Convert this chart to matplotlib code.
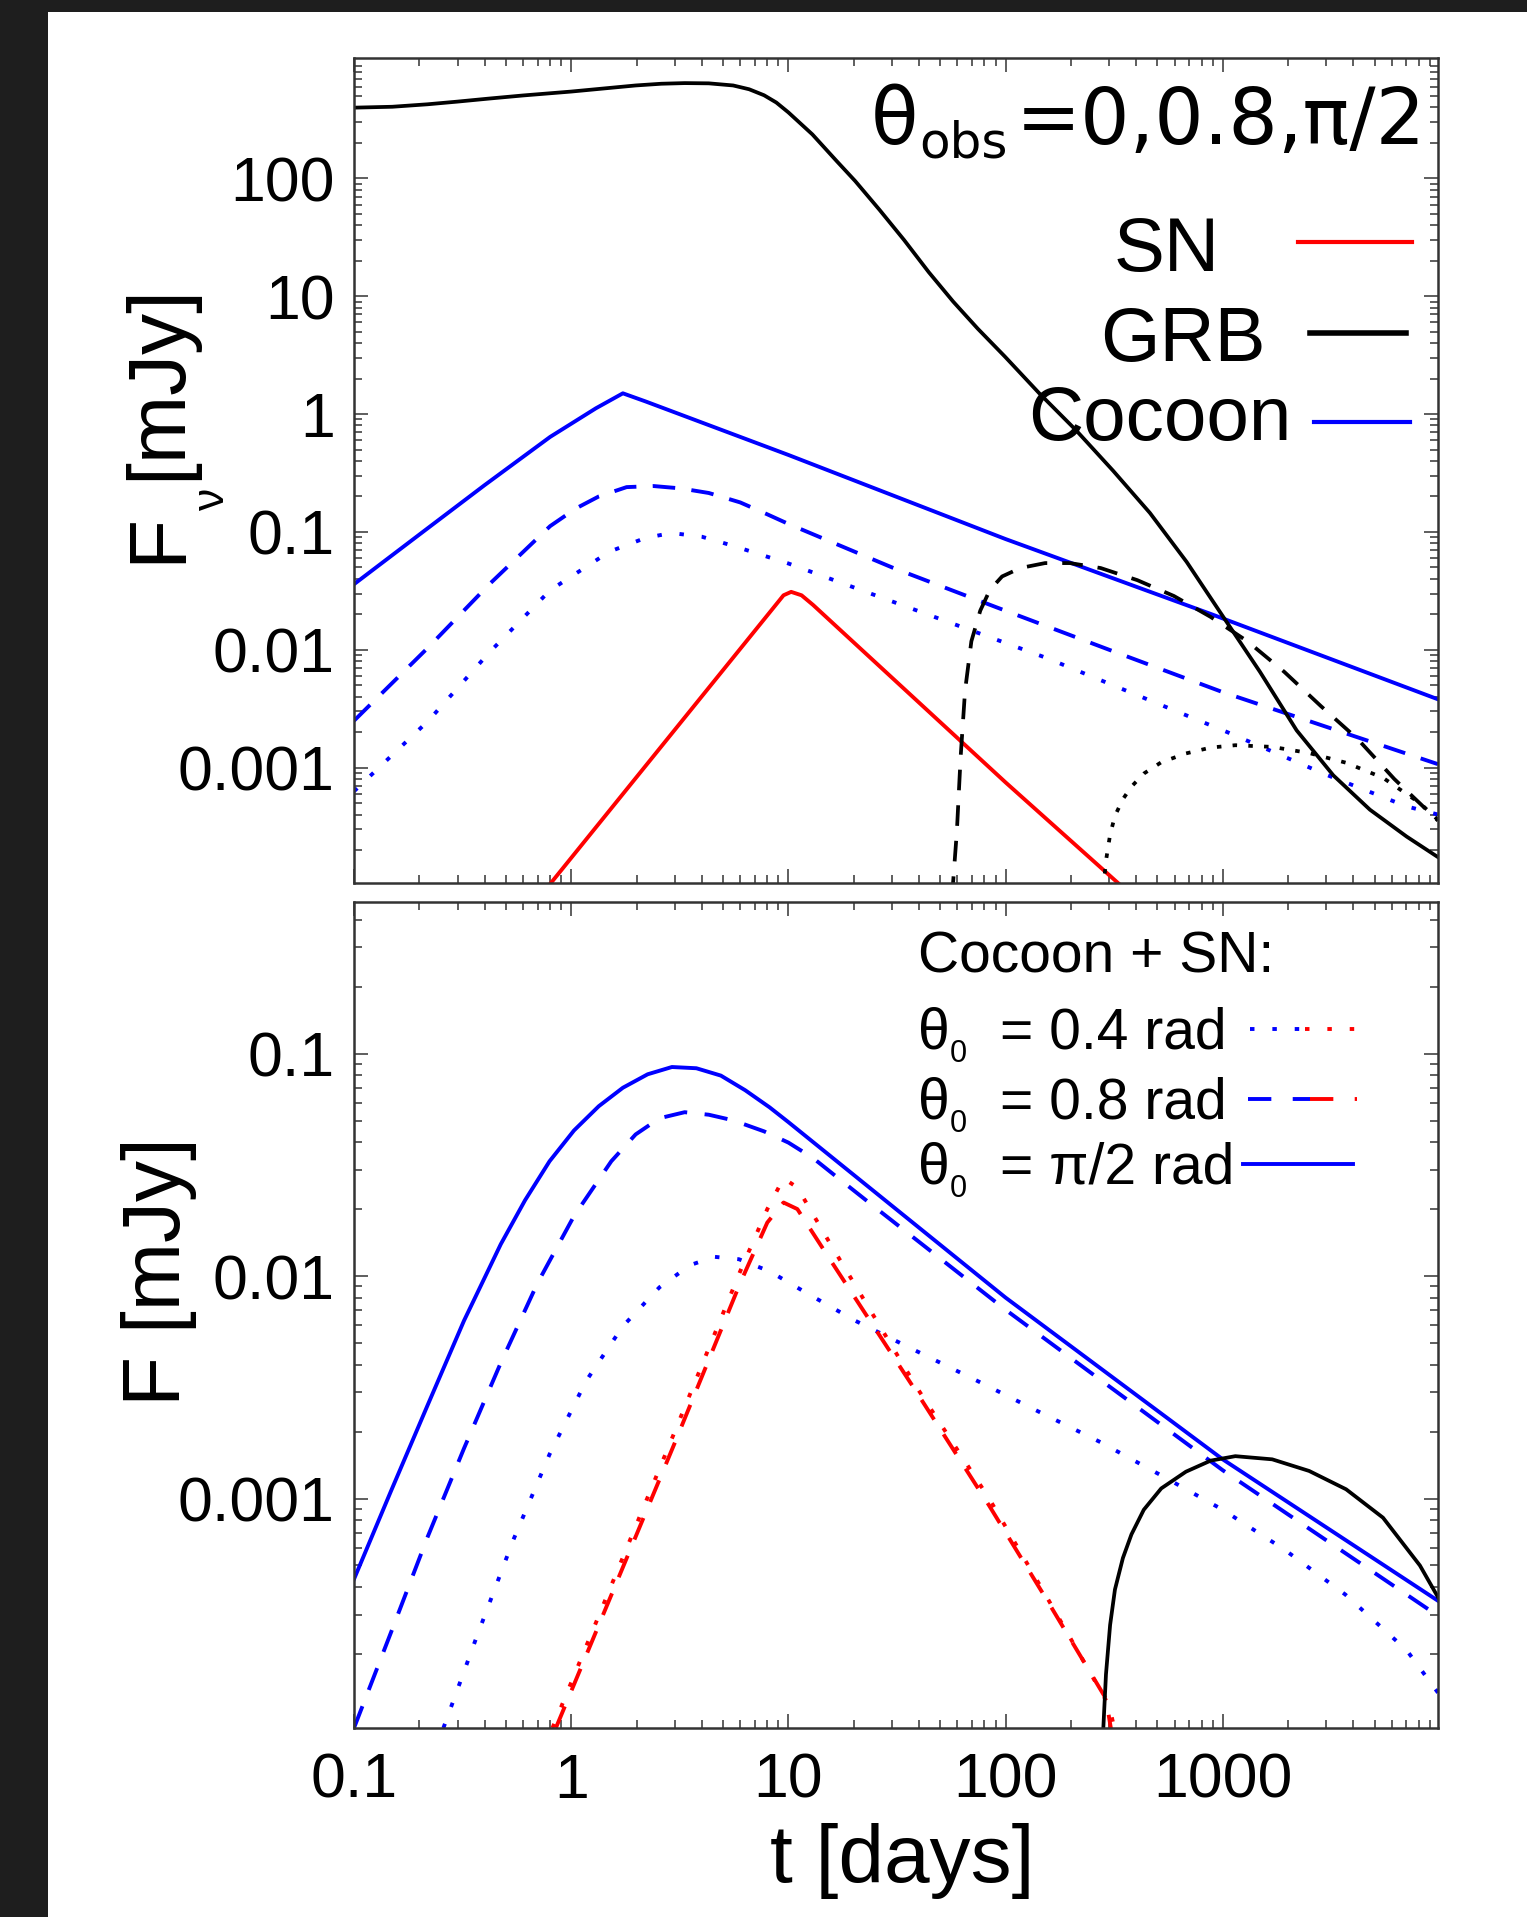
import matplotlib.pyplot as plt
from matplotlib.lines import Line2D
from matplotlib.patches import Rectangle
from matplotlib.ticker import FixedLocator, LogLocator, NullFormatter

# light curves, t in days, flux in mJy

# top panel: theta_obs = 0, 0.8, pi/2
t_grb_0 = [0.1, 0.15, 0.218, 0.3, 0.417, 0.6, 1.0, 1.5, 1.98, 2.6, 3.33, 4.3, 5.57, 6.6,
           7.73, 8.8, 10.0, 12.9, 16.7, 20.3, 26.3, 34.1, 44.3, 57.4, 74.5, 99.4, 143,
           211, 313, 462, 682, 1006, 1484, 2190, 3230, 4760, 7030, 9800]
f_grb_0 = [398, 405, 425, 448, 475, 505, 545, 585, 614, 635, 643, 640, 614, 570,
           507, 440, 363, 236, 140, 95, 54, 30, 16.0, 9.0, 5.3, 3.07, 1.5,
           0.73, 0.33, 0.145, 0.0557, 0.019, 0.0065, 0.00207, 8.6e-4, 4.4e-4, 2.6e-4, 1.74e-4]

t_grb_08 = [56.7, 59.7, 62.1, 65.1, 69.6, 76.5, 84.7, 96.4, 117, 152, 198, 274, 404,
            596, 880, 1300, 1920, 2830, 4180, 6170, 9800]
f_grb_08 = [8e-5, 2.9e-4, 1.22e-3, 4.5e-3, 0.0118, 0.0215, 0.0322, 0.0419, 0.0494,
            0.0544, 0.0544, 0.0494, 0.039, 0.0286, 0.019, 0.0118, 0.0065, 0.00333,
            0.00175, 8.0e-4, 3.55e-4]

t_grb_90 = [282, 290, 303, 319, 347, 380, 433, 521, 677, 880, 1143, 1690, 2500, 3700,
            5470, 8090, 9800]
f_grb_90 = [9.3e-5, 1.62e-4, 2.7e-4, 3.9e-4, 5.4e-4, 6.9e-4, 8.9e-4, 1.11e-3, 1.32e-3,
            1.48e-3, 1.55e-3, 1.5e-3, 1.33e-3, 1.1e-3, 8.2e-4, 5.0e-4, 3.6e-4]

t_coc_0 = [0.1, 0.2, 0.4, 0.8, 1.3, 1.73, 2.2, 10, 100, 890, 9800]
f_coc_0 = [0.036, 0.095, 0.25, 0.64, 1.12, 1.5, 1.28, 0.45, 0.087, 0.020, 0.0038]

t_coc_08 = [0.1, 0.22, 0.42, 0.8, 1.05, 1.34, 1.8, 2.4, 3.2, 4.3, 6, 8, 10, 30, 91, 300,
            1000, 3700, 9800]
f_coc_08 = [0.0025, 0.0105, 0.036, 0.112, 0.158, 0.2, 0.24, 0.245, 0.234, 0.214, 0.178,
            0.141, 0.117, 0.050, 0.0229, 0.0100, 0.00437, 0.00195, 0.00107]

t_coc_90 = [0.1, 0.22, 0.42, 0.8, 1.5, 2.2, 2.9, 4, 5.6, 10, 155, 1050, 3000, 7000, 9800]
f_coc_90 = [6.3e-4, 0.0025, 0.0095, 0.032, 0.068, 0.089, 0.098, 0.091, 0.076, 0.054,
            0.0085, 0.002, 8.7e-4, 4.7e-4, 4.0e-4]

t_sn = [0.7, 8.5, 9.5, 10.3, 11.5, 13, 100, 380]
f_sn = [7.6e-5, 0.0225, 0.029, 0.031, 0.029, 0.024, 7.5e-4, 8.3e-5]

# bottom panel: cocoon + SN for three opening angles
t_pi2 = [0.1, 0.148, 0.218, 0.321, 0.474, 0.613, 0.795, 1.03, 1.34, 1.73, 2.25, 2.91,
         3.77, 4.89, 6.33, 8.2, 10, 100, 1000, 9800]
f_pi2 = [4.34e-4, 1.08e-3, 2.62e-3, 6.3e-3, 0.0139, 0.0219, 0.0328, 0.0451, 0.058,
         0.0702, 0.0807, 0.087, 0.0859, 0.0796, 0.0684, 0.0573, 0.0492, 8.0e-3,
         1.5e-3, 3.47e-4]

t_08 = [0.1, 0.148, 0.218, 0.321, 0.474, 0.7, 1.03, 1.53, 1.98, 2.55, 3.33, 4.3, 5.57,
        7.73, 10, 13, 17, 25, 99.5, 1000, 9800]
f_08 = [9.3e-5, 2.5e-4, 6.7e-4, 1.68e-3, 4.07e-3, 9.3e-3, 0.0186, 0.0328, 0.0433,
        0.0512, 0.0545, 0.0531, 0.0501, 0.0447, 0.0398, 0.0339, 0.0275, 0.0204,
        7.08e-3, 1.34e-3, 2.97e-4]

t_04 = [0.258, 0.366, 0.541, 0.795, 1.17, 1.73, 2.55, 3.53, 4.57, 5.92, 8.2, 12.1, 20.3,
        38.9, 74.5, 143, 274, 521, 1000, 1920, 3670, 7030, 9800]
f_04 = [9.3e-5, 2.37e-4, 6.5e-4, 1.58e-3, 3.37e-3, 5.95e-3, 8.9e-3, 0.0112, 0.0122,
        0.0119, 0.0105, 8.4e-3, 6.3e-3, 4.6e-3, 3.37e-3, 2.45e-3, 1.79e-3, 1.27e-3,
        8.9e-4, 5.9e-4, 3.7e-4, 2.08e-4, 1.34e-4]

t_sn_08 = [0.85, 3.0, 6.0, 8.0, 9.5, 11, 15.7, 39, 84, 155, 290, 310]
f_sn_08 = [9.3e-5, 1.78e-3, 9.3e-3, 0.0174, 0.0214, 0.020, 0.0117, 3.0e-3, 9.3e-4,
           3.5e-4, 1.26e-4, 8.5e-5]

t_sn_04 = [0.82, 3.0, 6.0, 8.0, 9.5, 11, 15.7, 39, 84, 155, 300, 320]
f_sn_04 = [9.3e-5, 2.0e-3, 0.0105, 0.020, 0.0275, 0.025, 0.0138, 3.16e-3, 1.0e-3,
           3.6e-4, 1.17e-4, 8.9e-5]

x_ticks = [0.1, 1, 10, 100, 1000]
x_labels = ['0.1', '1', '10', '100', '1000']
y_ticks_top = [1e-3, 1e-2, 0.1, 1, 10, 100]
y_labels_top = ['0.001', '0.01', '0.1', '1', '10', '100']
y_ticks_bot = [1e-3, 1e-2, 0.1]
y_labels_bot = ['0.001', '0.01', '0.1']

W, H = 1527, 1917
DPI = 100


def fx(px):
    return px / W


def fy(py):
    return 1 - py / H


plt.rcParams['font.family'] = ['Liberation Sans', 'DejaVu Sans']

fig = plt.figure(figsize=(W / DPI, H / DPI), dpi=DPI, facecolor='white')
# dark frame round the picture
fig.add_artist(Rectangle((0, 0), fx(48), 1, transform=fig.transFigure, color='#1e1e1e', lw=0))
fig.add_artist(Rectangle((0, fy(12)), 1, 12 / H, transform=fig.transFigure, color='#1e1e1e', lw=0))

ax1 = fig.add_axes([fx(354), fy(883), (1438 - 354) / W, (883 - 58) / H])
ax2 = fig.add_axes([fx(354), fy(1728), (1438 - 354) / W, (1728 - 902) / H])


def style(ax, yticks, ylabels, ylim, show_x):
    ax.set_xscale('log')
    ax.set_yscale('log')
    ax.set_xlim(0.1, 9800)
    ax.set_ylim(*ylim)
    ax.xaxis.set_major_locator(FixedLocator(x_ticks))
    ax.yaxis.set_major_locator(FixedLocator(yticks))
    for a in (ax.xaxis, ax.yaxis):
        a.set_minor_locator(LogLocator(base=10, subs=range(2, 10), numticks=30))
        a.set_minor_formatter(NullFormatter())
    ax.set_yticklabels(ylabels)
    ax.set_xticklabels(x_labels if show_x else [])
    ax.tick_params(which='both', direction='in', top=True, right=True,
                   color='#333333', width=1.1)
    ax.tick_params(which='major', length=10, labelsize=45)
    ax.tick_params(which='minor', length=5.5)
    ax.tick_params(axis='y', pad=14)
    ax.tick_params(axis='x', pad=17)
    for s in ax.spines.values():
        s.set_linewidth(1.8)
        s.set_color('#333333')


style(ax1, y_ticks_top, y_labels_top, (1.05e-4, 1.05e3), False)
style(ax2, y_ticks_bot, y_labels_bot, (9.3e-5, 0.48), True)

LW = 2.8
DASH = (5.8, 4.2)
DOT = (1.15, 4.6)

# top panel
ax1.plot(t_coc_0, f_coc_0, color='blue', lw=LW)
ax1.plot(t_coc_08, f_coc_08, color='blue', lw=LW, dashes=DASH)
ax1.plot(t_coc_90, f_coc_90, color='blue', lw=LW, dashes=DOT)
ax1.plot(t_sn, f_sn, color='red', lw=LW)
ax1.plot(t_grb_0, f_grb_0, color='black', lw=2.7)
ax1.plot(t_grb_08, f_grb_08, color='black', lw=2.7, dashes=(5.5, 4))
ax1.plot(t_grb_90, f_grb_90, color='black', lw=2.7, dashes=(1.2, 3.0))

# bottom panel
ax2.plot(t_pi2, f_pi2, color='blue', lw=LW)
ax2.plot(t_08, f_08, color='blue', lw=LW, dashes=(6, 4.5))
ax2.plot(t_04, f_04, color='blue', lw=LW, dashes=DOT)
ax2.plot(t_sn_08, f_sn_08, color='red', lw=LW, dashes=(6, 4.5))
ax2.plot(t_sn_04, f_sn_04, color='red', lw=LW, dashes=DOT)
ax2.plot(t_grb_90, f_grb_90, color='black', lw=2.7)

# title of the top panel
fig.text(fx(871), fy(144), 'θ', fontsize=56, family='DejaVu Sans', va='baseline')
fig.text(fx(919), fy(157), 'obs', fontsize=36, family='DejaVu Sans', va='baseline')
fig.text(fx(1016), fy(144), '=0,0.8,π/2', fontsize=56, family='DejaVu Sans', va='baseline')

# top legend, text sits under the curves
for label, right, base, ly, x0, x1, col, lw in [('SN', 1220, 271, 242, 1298, 1412, 'red', 3),
                                                ('GRB', 1266, 361, 333, 1310, 1406, 'black', 4),
                                                ('Cocoon', 1292, 440, 422, 1314, 1410, 'blue', 3)]:
    ax1.text(fx(right), fy(base), label, transform=fig.transFigure, fontsize=55,
             ha='right', va='baseline', zorder=1)
    fig.add_artist(Line2D([fx(x0), fx(x1)], [fy(ly), fy(ly)], transform=fig.transFigure,
                          color=col, lw=lw))

# bottom legend
fig.text(fx(918), fy(972), 'Cocoon + SN:', fontsize=41, va='baseline')
rows = [('= 0.4 rad', 1048), ('= 0.8 rad', 1118), ('= π/2 rad', 1183)]
for txt, base in rows:
    fig.text(fx(918), fy(base), 'θ', fontsize=41, va='baseline')
    fig.text(fx(950), fy(base + 14), '0', fontsize=22, va='baseline')
    fig.text(fx(1000), fy(base), txt, fontsize=41, va='baseline')


def sample(x0, x1, y, col, dashes=None):
    ln = Line2D([fx(x0), fx(x1)], [fy(y), fy(y)], transform=fig.transFigure, color=col, lw=LW)
    if dashes:
        ln.set_dashes(dashes)
    fig.add_artist(ln)


sample(1250, 1305, 1029, 'blue', DOT)
sample(1305, 1360, 1029, 'red', DOT)
sample(1248, 1310, 1099, 'blue', (6, 5.5))
sample(1310, 1357, 1099, 'red', (6, 5.5))
sample(1243, 1353, 1164, 'blue')

# axis labels, placed on their baselines
rot = dict(rotation=90, rotation_mode='anchor', ha='left', va='baseline')
fig.text(fx(180), fy(563), 'F', fontsize=59, **rot)
fig.text(fx(224), fy(511), 'ν', fontsize=32, **rot)
fig.text(fx(180), fy(480), '[mJy]', fontsize=59, **rot)
fig.text(fx(180), fy(1406), 'F [mJy]', fontsize=59, **rot)
fig.text(fx(902), fy(1861), 't [days]', fontsize=59, ha='center', va='center')

fig.savefig('out.png', dpi=DPI, facecolor='white')
